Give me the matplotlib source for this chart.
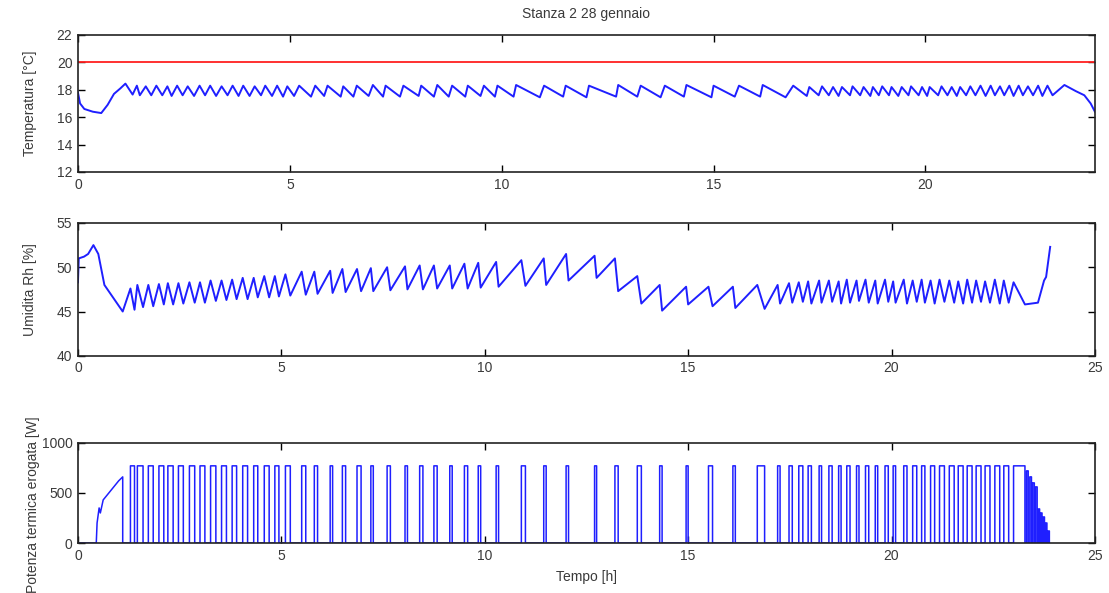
import numpy as np
import matplotlib
matplotlib.use("Agg")
import matplotlib.pyplot as plt

plt.rcParams['font.family'] = ['Liberation Sans', 'DejaVu Sans']

# heating pulses: switch-on time [h] and duration [h]
pulse_on = [1.29, 1.46, 1.73, 1.99, 2.21, 2.47, 2.74, 3.00, 3.26, 3.53, 3.79, 4.05, 4.32, 4.58, 4.84, 5.10,
            5.50, 5.81, 6.20, 6.50, 6.86, 7.20, 7.60, 8.04, 8.40, 8.75, 9.14, 9.50, 9.84, 10.28, 10.90, 11.45,
            12.00, 12.70, 13.20, 13.75, 14.30, 14.95, 15.50, 16.10, 16.70,
            17.20, 17.48, 17.72, 17.95, 18.22, 18.46, 18.70, 18.90, 19.14, 19.36, 19.60, 19.84, 20.04,
            20.30, 20.52, 20.74, 20.96, 21.18, 21.42, 21.64, 21.86, 22.08, 22.30, 22.54, 22.76, 23.00]
pulse_len = [0.10, 0.14, 0.12, 0.12, 0.13, 0.12, 0.13, 0.12, 0.13, 0.12, 0.11, 0.12, 0.10, 0.12, 0.10, 0.12,
             0.10, 0.08, 0.06, 0.08, 0.10, 0.06, 0.08, 0.06, 0.08, 0.08, 0.06, 0.08, 0.06, 0.06, 0.10, 0.06,
             0.06, 0.05, 0.08, 0.10, 0.06, 0.05, 0.10, 0.06, 0.18,
             0.06, 0.08, 0.10, 0.08, 0.06, 0.08, 0.06, 0.08, 0.06, 0.08, 0.06, 0.08, 0.06,
             0.08, 0.10, 0.08, 0.10, 0.12, 0.12, 0.12, 0.12, 0.12, 0.12, 0.12, 0.12, 0.28]
p_on = 770

# start-up ramp and switching tail of the power
ramp_t = [0.0, 0.45, 0.47, 0.52, 0.55, 0.62, 0.80, 1.00, 1.10, 1.10]
ramp_p = [0, 0, 200, 350, 300, 430, 520, 620, 660, 0]
tail_on = [23.32, 23.40, 23.47, 23.54, 23.61, 23.67, 23.73, 23.79, 23.85]
tail_len = [0.04, 0.04, 0.04, 0.04, 0.03, 0.03, 0.03, 0.03, 0.03]
tail_p = [720, 660, 600, 560, 340, 300, 260, 200, 120]

# temperature: trough at switch-on, peak at switch-off
temp_low = [17.65, 17.6, 17.6, 17.6, 17.55, 17.6, 17.55, 17.6, 17.55, 17.6, 17.55, 17.55, 17.6, 17.55, 17.5, 17.55,
            17.5, 17.55, 17.5, 17.5, 17.55, 17.5, 17.5, 17.55, 17.5, 17.5, 17.5, 17.55, 17.5, 17.5, 17.45, 17.5,
            17.45, 17.5, 17.5, 17.45, 17.5, 17.45, 17.5, 17.5, 17.45,
            17.55, 17.6, 17.6, 17.55, 17.6, 17.6, 17.55, 17.6, 17.6, 17.55, 17.6, 17.6, 17.55,
            17.6, 17.6, 17.55, 17.6, 17.6, 17.55, 17.6, 17.6, 17.55, 17.6, 17.6, 17.55, 17.6]
temp_high = [18.3, 18.25, 18.3, 18.25, 18.3, 18.25, 18.3, 18.3, 18.25, 18.3, 18.3, 18.25, 18.3, 18.3, 18.25, 18.3,
             18.3, 18.3, 18.25, 18.3, 18.35, 18.3, 18.3, 18.3, 18.35, 18.3, 18.3, 18.3, 18.3, 18.35, 18.3, 18.3,
             18.3, 18.35, 18.3, 18.3, 18.35, 18.3, 18.3, 18.35, 18.3,
             18.2, 18.25, 18.2, 18.2, 18.25, 18.2, 18.2, 18.25, 18.2, 18.2, 18.25, 18.2, 18.2,
             18.25, 18.2, 18.2, 18.25, 18.3, 18.3, 18.25, 18.3, 18.3, 18.25, 18.3, 18.3, 18.35]
temp_start_t = [0.0, 0.05, 0.15, 0.35, 0.55, 0.70, 0.85, 1.00, 1.12]
temp_start_v = [17.8, 17.0, 16.6, 16.4, 16.3, 16.9, 17.7, 18.1, 18.45]
temp_end_t = [23.55, 23.75, 23.90, 24.0]
temp_end_v = [17.9, 17.6, 17.0, 16.4]
setpoint = 20

# relative humidity: peak at switch-on, trough at switch-off
hum_high = [47.6, 48.0, 48.0, 48.1, 48.2, 48.2, 48.3, 48.3, 48.5, 48.5, 48.6, 48.8, 48.8, 49.0, 49.0, 49.2,
            49.5, 49.5, 49.6, 49.8, 49.8, 49.9, 50.0, 50.1, 50.2, 50.2, 50.2, 50.4, 50.5, 50.6, 50.8, 51.0,
            51.5, 51.3, 51.0, 49.0, 48.0, 47.8, 47.8, 47.8, 48.0,
            48.0, 48.2, 48.3, 48.4, 48.5, 48.5, 48.4, 48.6, 48.5, 48.6, 48.5, 48.6, 48.4,
            48.6, 48.5, 48.6, 48.5, 48.6, 48.5, 48.4, 48.6, 48.5, 48.4, 48.6, 48.5, 48.3]
hum_low = [45.2, 45.5, 45.6, 45.8, 45.8, 45.9, 46.0, 46.0, 46.2, 46.3, 46.4, 46.4, 46.6, 46.6, 46.7, 46.8,
           46.9, 47.0, 47.1, 47.2, 47.3, 47.3, 47.4, 47.5, 47.5, 47.6, 47.6, 47.6, 47.7, 47.8, 47.9, 48.0,
           48.5, 48.8, 47.3, 45.9, 45.1, 45.8, 45.6, 45.4, 45.3,
           45.9, 46.0, 46.1, 45.9, 46.0, 46.1, 45.9, 46.0, 46.2, 46.0, 45.9, 46.1, 46.0,
           45.9, 46.1, 46.0, 45.9, 46.1, 46.0, 45.9, 46.0, 46.1, 46.0, 45.9, 46.0, 45.8]
hum_start_t = [0.0, 0.02, 0.15, 0.25, 0.38, 0.50, 0.65, 0.80, 0.95, 1.10]
hum_start_v = [48.3, 51.0, 51.2, 51.5, 52.5, 51.5, 48.0, 47.0, 46.0, 45.0]
hum_end_t = [23.60, 23.75, 23.80, 23.90]
hum_end_v = [46.0, 48.5, 48.9, 52.3]


def step_series(on, dur, level):
    t, p = [], []
    for a, d, h in zip(on, dur, level):
        t += [a, a, a + d, a + d]
        p += [0, h, h, 0]
    return t, p


pt, pp = step_series(pulse_on, pulse_len, [p_on] * len(pulse_on))
tt, tp = step_series(tail_on, tail_len, tail_p)
pow_t = ramp_t + pt + tt
pow_p = ramp_p + pp + tp

temp_t, temp_v = list(temp_start_t), list(temp_start_v)
hum_t, hum_v = list(hum_start_t), list(hum_start_v)
for a, d, lo, hi, hh, hl in zip(pulse_on, pulse_len, temp_low, temp_high, hum_high, hum_low):
    temp_t += [a, a + d]
    temp_v += [lo, hi]
    hum_t += [a, a + d]
    hum_v += [hh, hl]
temp_t += temp_end_t
temp_v += temp_end_v
hum_t += hum_end_t
hum_v += hum_end_v

blue = '#1f1fff'
txt = '#3a3a3a'

fig = plt.figure(figsize=(11.09, 5.93), dpi=100)
ax1 = fig.add_axes([0.0703, 0.710, 0.917, 0.231])
ax2 = fig.add_axes([0.0703, 0.400, 0.917, 0.224])
ax3 = fig.add_axes([0.0703, 0.0843, 0.917, 0.169])

ax1.plot(temp_t, temp_v, color=blue, lw=1.4)
ax1.axhline(setpoint, color='#ff2020', lw=1.3)
ax1.set_xlim(0, 24)
ax1.set_ylim(12, 22)
ax1.set_xticks([0, 5, 10, 15, 20])
ax1.set_yticks([12, 14, 16, 18, 20, 22])
ax1.set_ylabel('Temperatura [°C]')
ax1.set_title('Stanza 2 28 gennaio', fontsize=10, color=txt, pad=12)

ax2.plot(hum_t, hum_v, color=blue, lw=1.4)
ax2.set_xlim(0, 25)
ax2.set_ylim(40, 55)
ax2.set_xticks([0, 5, 10, 15, 20, 25])
ax2.set_yticks([40, 45, 50, 55])
ax2.set_ylabel('Umidita Rh [%]')

ax3.plot(pow_t, pow_p, color=blue, lw=1.1)
ax3.set_xlim(0, 25)
ax3.set_ylim(0, 1000)
ax3.set_xticks([0, 5, 10, 15, 20, 25])
ax3.set_yticks([0, 500, 1000])
ax3.set_ylabel('Potenza termica erogata [W]')
ax3.set_xlabel('Tempo [h]', labelpad=5)

for ax in (ax1, ax2, ax3):
    ax.tick_params(direction='in', top=True, right=True, length=5, width=1,
                   labelsize=10, labelcolor=txt, pad=4)
    for s in ax.spines.values():
        s.set_color('#222222')
        s.set_linewidth(1.2)
    ax.yaxis.label.set_color(txt)
    ax.yaxis.label.set_fontsize(10)
    ax.xaxis.label.set_color(txt)
    ax.xaxis.label.set_fontsize(10)
    ax.yaxis.set_label_coords(-0.04, 0.5)
ax3.yaxis.set_label_coords(-0.037, 0.38)

fig.savefig('out.png', dpi=100)
